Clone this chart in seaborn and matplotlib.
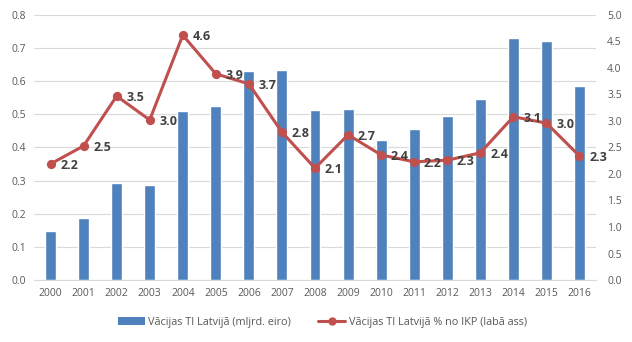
import matplotlib
matplotlib.use("Agg")
import matplotlib.pyplot as plt
import seaborn as sns
import numpy as np
import pandas as pd
from matplotlib.patches import Patch
from matplotlib.lines import Line2D

years = ["2000", "2001", "2002", "2003", "2004", "2005", "2006", "2007", "2008",
         "2009", "2010", "2011", "2012", "2013", "2014", "2015", "2016"]
fdi_bn = [0.148, 0.187, 0.293, 0.287, 0.510, 0.525, 0.631, 0.634, 0.513,
          0.516, 0.423, 0.456, 0.495, 0.546, 0.730, 0.720, 0.585]
fdi_gdp = [2.19, 2.53, 3.47, 3.02, 4.62, 3.89, 3.70, 2.79, 2.11,
           2.74, 2.36, 2.23, 2.26, 2.40, 3.08, 2.96, 2.34]
bar_label = "Vācijas TI Latvijā (mljrd. eiro)"
line_label = "Vācijas TI Latvijā % no IKP (labā ass)"

df = pd.DataFrame({"year": years, "bn": fdi_bn, "gdp": fdi_gdp})

sns.set_style("white")
plt.rcParams["font.family"] = ["Open Sans", "DejaVu Sans"]

BAR = "#4F81BD"
LINE = "#C0504D"
TICK = "#595959"
GRID = "#D9D9D9"

fig = plt.figure(figsize=(6.32, 3.42), dpi=100)
ax = fig.add_axes([34/632, (342-280)/342, (596-34)/632, (280-15)/342])

sns.barplot(data=df, x="year", y="bn", color=BAR, width=0.33, saturation=1, ax=ax, zorder=2)
ax.set_ylim(0, 0.8)
ax.set_yticks(np.arange(0, 0.81, 0.1))
ax.set_yticklabels([f"{v:.1f}" for v in np.arange(0, 0.81, 0.1)])
ax.grid(axis="y", color=GRID, linewidth=0.8, zorder=0)
ax.set_axisbelow(True)
for s in ["top", "right", "left"]:
    ax.spines[s].set_visible(False)
ax.spines["bottom"].set_color(GRID)
ax.set_xlabel("")
ax.set_ylabel("")
ax.tick_params(axis="both", length=0, labelsize=7.5, colors=TICK, pad=6)

ax2 = ax.twinx()
sns.pointplot(data=df, x="year", y="gdp", color=LINE, markers="o", ax=ax2,
              linewidth=2.2, markersize=5)
ax2.set_ylim(0, 5)
ax2.set_yticks(np.arange(0, 5.01, 0.5))
ax2.set_yticklabels([f"{v:.1f}" for v in np.arange(0, 5.01, 0.5)])
for s in ["top", "right", "left", "bottom"]:
    ax2.spines[s].set_visible(False)
ax2.set_xlabel("")
ax2.set_ylabel("")
ax2.tick_params(axis="both", length=0, labelsize=7.5, colors=TICK, pad=8)
ax.set_xlim(-0.5, len(years) - 0.5)
ax2.set_xlim(-0.5, len(years) - 0.5)

for i, v in enumerate(fdi_gdp):
    ax2.annotate(f"{v:.1f}", (i, v), xytext=(7, -1), textcoords="offset points",
                 ha="left", va="center", fontsize=9, fontweight="bold", color="#404040")

handles = [Patch(facecolor=BAR, edgecolor="none"),
           Line2D([0], [0], color=LINE, linewidth=2.2, marker="o", markersize=5)]
fig.legend(handles, [bar_label, line_label], loc="center", bbox_to_anchor=(0.51, (342-322)/342),
           ncol=2, frameon=False, fontsize=7.8, labelcolor=TICK, columnspacing=2.5,
           handlelength=2.5, handletextpad=0.3)

fig.savefig("out.png", dpi=100)
